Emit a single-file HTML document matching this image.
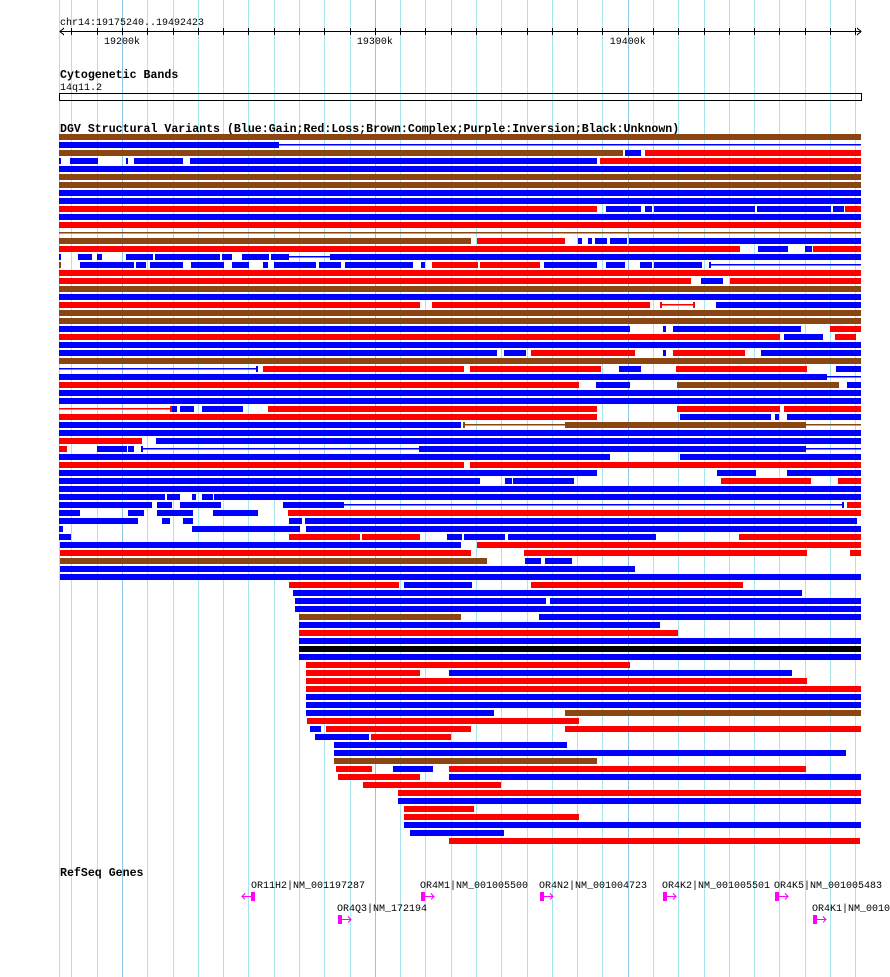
<!DOCTYPE html>
<html><head><meta charset="utf-8">
<style>
html,body{margin:0;padding:0;background:#fff;}
svg{display:block;}
text{font-family:"Liberation Mono","DejaVu Sans Mono",monospace;fill:#000;}
</style></head>
<body>
<svg id="chart" width="890" height="977" viewBox="0 0 890 977" xmlns="http://www.w3.org/2000/svg" shape-rendering="crispEdges">
  <g id="grid"></g>
  <text x="60" y="25" font-size="10">chr14:19175240..19492423</text>
  <g id="ruler"></g>
  <text x="60" y="78" font-size="11.6" font-weight="bold">Cytogenetic Bands</text>
  <text x="60" y="90" font-size="10">14q11.2</text>
  <rect x="59.5" y="93.5" width="802" height="7" fill="none" stroke="#000" stroke-width="1"/>
  <text x="60" y="132" font-size="11.6" font-weight="bold">DGV Structural Variants (Blue:Gain;Red:Loss;Brown:Complex;Purple:Inversion;Black:Unknown)</text>
  <g id="sv"></g>
  <text x="60" y="876" font-size="11.6" font-weight="bold">RefSeq Genes</text>
  <g id="genes"></g>
</svg>
<script>
// ---- data (kb offsets from chr14:19175240) ----
var regionStartKb = 19175.24;
var regionEndKb = 19492.423;
var rulerLabels = ["19200k", "19300k", "19400k"];
var rulerLabelKb = [19200, 19300, 19400];
// segments: [row, startKb, endKb, type(G gain,L loss,C complex,U unknown), shape(b bar,l line)]
var svSegments = [
[0,0,317.2,'C','b'],
[1,0,86.9,'G','b'],[1,86.9,317.2,'G','l'],
[2,0,223.0,'C','b'],[2,223.7,230.1,'G','b'],[2,231.7,317.2,'L','b'],
[3,0,0.6,'G','b'],[3,4.2,15.3,'G','b'],[3,26.3,27.1,'G','b'],[3,29.5,48.9,'G','b'],[3,51.7,212.7,'G','b'],[3,213.9,317.2,'L','b'],
[4,0,317.2,'G','b'],[5,0,317.2,'C','b'],[6,0,317.2,'C','b'],[7,0,317.2,'G','b'],[8,0,317.2,'G','b'],
[9,0,212.7,'L','b'],[9,216.2,230.1,'G','b'],[9,231.7,234.4,'G','b'],[9,235.2,275.2,'G','b'],[9,276.0,305.2,'G','b'],[9,306.0,310.4,'G','b'],[9,310.8,317.2,'L','b'],
[10,0,317.2,'G','b'],[11,0,317.2,'L','b'],[12,0,317.2,'C','l'],
[13,0,162.8,'C','b'],[13,165.2,200.0,'L','b'],[13,205.2,206.7,'G','b'],[13,209.1,210.7,'G','b'],[13,211.9,216.6,'G','b'],[13,217.8,224.5,'G','b'],[13,225.3,317.2,'G','b'],
[14,0,269.2,'L','b'],[14,276.4,288.2,'G','b'],[14,294.9,297.7,'G','b'],[14,298.1,317.2,'L','b'],
[15,0,0.6,'G','b'],[15,7.4,12.9,'G','b'],[15,14.9,16.9,'G','b'],[15,26.3,37.0,'G','b'],[15,37.8,63.5,'G','b'],[15,64.3,68.3,'G','b'],[15,72.2,82.9,'G','b'],[15,83.7,90.8,'G','b'],[15,90.8,107.0,'G','l'],[15,107.0,317.2,'G','b'],
[16,0,0.6,'C','b'],[16,8.1,29.5,'G','b'],[16,30.3,34.3,'G','b'],[16,35.8,48.9,'G','b'],[16,52.1,65.1,'G','b'],[16,68.3,75.0,'G','b'],[16,80.5,82.5,'G','b'],[16,84.9,101.5,'G','b'],[16,102.7,111.4,'G','b'],[16,113.0,139.9,'G','b'],[16,143.0,144.6,'G','b'],[16,147.4,165.6,'L','b'],[16,166.4,190.1,'L','b'],[16,191.7,212.7,'G','b'],[16,216.2,223.7,'G','b'],[16,229.7,234.4,'G','b'],[16,235.2,254.2,'G','b'],[16,257.0,257.8,'G','b'],[16,257.4,317.2,'G','l'],
[17,0,317.2,'L','b'],
[18,0,249.9,'L','b'],[18,253.8,262.5,'G','b'],[18,265.3,317.2,'L','b'],
[19,0,317.2,'C','b'],[20,0,317.2,'G','b'],
[21,0,142.7,'L','b'],[21,147.4,233.6,'L','b'],[21,237.6,238.4,'L','b'],[21,237.6,251.4,'L','l'],[21,250.6,251.4,'L','b'],[21,259.8,317.2,'G','b'],
[22,0,317.2,'C','b'],[23,0,317.2,'C','b'],
[24,0,225.7,'G','b'],[24,238.8,240.0,'G','b'],[24,242.7,293.4,'G','b'],[24,304.8,317.2,'L','b'],
[25,0,285.1,'L','b'],[25,286.7,302.1,'G','b'],[25,306.8,315.1,'L','b'],
[26,0,317.2,'G','b'],
[27,0,173.1,'G','b'],[27,175.9,184.6,'G','b'],[27,186.5,227.7,'L','b'],[27,238.8,240.0,'G','b'],[27,242.7,271.2,'L','b'],[27,277.5,317.2,'G','b'],
[28,0,317.2,'C','b'],
[29,0,77.8,'G','l'],[29,77.8,78.6,'G','b'],[29,80.5,160.1,'L','b'],[29,162.4,214.3,'L','b'],[29,221.4,230.1,'G','b'],[29,243.9,295.7,'L','b'],[29,307.2,317.2,'G','b'],
[30,0,303.6,'G','b'],[30,303.6,317.2,'G','l'],
[31,0,205.6,'L','b'],[31,212.3,225.7,'G','b'],[31,244.3,308.4,'C','b'],[31,311.6,317.2,'G','b'],
[32,0,317.2,'G','b'],[33,0,317.2,'G','b'],
[34,0,43.8,'L','l'],[34,43.8,44.5,'L','b'],[34,44.5,46.5,'G','b'],[34,47.7,53.3,'G','b'],[34,56.4,72.6,'G','b'],[34,82.5,212.7,'L','b'],[34,244.3,285.1,'L','b'],[34,286.7,317.2,'L','b'],
[35,0,212.7,'L','b'],[35,245.5,281.5,'G','b'],[35,283.1,284.7,'G','b'],[35,287.8,317.2,'G','b'],
[36,0,158.9,'G','b'],[36,159.7,160.5,'C','b'],[36,160.5,317.2,'C','l'],[36,200.0,295.3,'C','b'],
[37,0,317.2,'G','b'],
[38,0,32.7,'L','b'],[38,38.2,317.2,'G','b'],
[39,0,3.0,'L','b'],[39,14.9,26.7,'G','b'],[39,27.1,29.5,'G','b'],[39,32.3,32.9,'G','b'],[39,32.7,142.3,'G','l'],[39,142.3,295.3,'G','b'],[39,295.3,317.2,'G','l'],
[40,0,217.8,'G','b'],[40,245.5,317.2,'G','b'],
[41,0,160.1,'L','b'],[41,162.4,317.2,'L','b'],
[42,0,212.7,'G','b'],[42,260.2,275.6,'G','b'],[42,287.8,317.2,'G','b'],
[43,0,166.4,'G','b'],[43,176.3,179.1,'G','b'],[43,179.5,203.6,'G','b'],[43,261.7,297.3,'L','b'],[43,308.0,317.2,'L','b'],
[44,0,317.2,'G','b'],
[45,0,41.8,'G','b'],[45,42.6,47.7,'G','b'],[45,52.5,54.0,'G','b'],[45,56.4,60.8,'G','b'],[45,61.2,317.2,'G','b'],
[46,0,36.6,'G','b'],[46,38.6,44.5,'G','b'],[46,47.7,63.9,'G','b'],[46,88.4,112.6,'G','b'],[46,112.6,309.6,'G','l'],[46,309.6,310.4,'G','b'],[46,311.6,317.2,'L','b'],
[47,0,8.1,'G','b'],[47,27.1,33.5,'G','b'],[47,38.6,52.9,'G','b'],[47,60.8,78.6,'G','b'],[47,90.4,317.2,'L','b'],
[48,0,31.1,'G','b'],[48,40.6,43.8,'G','b'],[48,48.9,52.9,'G','b'],[48,90.8,96.0,'G','b'],[48,97.2,315.5,'G','b'],
[49,0,1.4,'G','b'],[49,52.5,95.2,'G','b'],[49,97.6,317.2,'G','b'],
[50,0,4.6,'G','b'],[50,90.8,118.9,'L','b'],[50,119.7,142.7,'L','b'],[50,153.3,159.3,'G','b'],[50,160.1,176.3,'G','b'],[50,177.5,236.0,'G','b'],[50,268.8,317.2,'L','b'],
[51,0.2,158.9,'G','b'],[51,165.2,317.2,'L','b'],
[52,0.2,162.8,'L','b'],[52,183.8,295.7,'L','b'],[52,312.8,317.2,'L','b'],
[53,0.2,169.1,'C','b'],[53,184.2,190.5,'G','b'],[53,192.1,202.8,'G','b'],
[54,0.2,227.7,'G','b'],
[55,0.2,317.2,'G','b'],
[56,90.8,134.3,'L','b'],[56,136.3,163.2,'G','b'],[56,186.5,270.4,'L','b'],
[57,92.4,293.8,'G','b'],
[58,93.2,192.5,'G','b'],[58,194.1,317.2,'G','b'],
[59,93.2,317.2,'G','b'],
[60,94.8,158.9,'C','b'],[60,189.7,317.2,'G','b'],
[61,94.8,237.6,'G','b'],
[62,94.8,244.7,'L','b'],
[63,94.8,317.2,'G','b'],
[64,94.8,317.2,'U','b'],
[65,94.8,317.2,'G','b'],
[66,97.6,225.7,'L','b'],
[67,97.6,142.7,'L','b'],[67,154.1,289.8,'G','b'],
[68,97.6,295.7,'L','b'],
[69,97.6,317.2,'L','b'],
[70,97.6,317.2,'G','b'],
[71,97.6,317.2,'G','b'],
[72,97.6,171.9,'G','b'],[72,200.0,317.2,'C','b'],
[73,98.0,205.6,'L','b'],
[74,99.1,103.5,'G','b'],[74,105.5,162.8,'L','b'],[74,200.0,317.2,'L','b'],
[75,101.1,122.5,'G','b'],[75,123.3,154.9,'L','b'],
[76,108.6,200.8,'G','b'],
[77,108.6,311.2,'G','b'],
[78,108.6,212.7,'C','b'],
[79,109.4,123.7,'L','b'],[79,132.1,147.8,'G','b'],[79,154.1,295.3,'L','b'],
[80,110.2,142.7,'L','b'],[80,154.1,317.2,'G','b'],
[81,120.1,174.7,'L','b'],
[82,133.9,317.2,'L','b'],
[83,133.9,317.2,'G','b'],
[84,136.3,164.0,'L','b'],
[85,136.3,205.6,'L','b'],
[86,136.3,317.2,'G','b'],
[87,138.7,175.9,'G','b'],
[88,154.1,316.8,'L','b']
];
var geneNames = ["OR11H2|NM_001197287","OR4M1|NM_001005500","OR4N2|NM_001004723","OR4K2|NM_001005501","OR4K5|NM_001005483","OR4Q3|NM_172194","OR4K1|NM_0010"];
var geneStartKb = [75.9,143.0,190.1,238.8,283.1,110.2,298.1];
var geneEndKb = [77.5,144.6,191.7,240.4,284.7,111.8,299.7];
var geneStrand = ["-","+","+","+","+","+","+"];
var geneLane = [0,0,0,0,0,1,1];

// ---- scales ----
var X0 = 59.4, PXPERKB = 802 / (regionEndKb - regionStartKb);
function xs(kb){ return X0 + kb * PXPERKB; }
function xg(absKb){ return xs(absKb - regionStartKb); }
function rowY(r){ return 134 + 8 * r; }
var NS = "http://www.w3.org/2000/svg";
function mk(tag, attrs, parent){ var e = document.createElementNS(NS, tag); for (var k in attrs) e.setAttribute(k, attrs[k]); parent.appendChild(e); return e; }
var COLORS = {G:"#0000ff", L:"#ff0000", C:"#8b4513", U:"#000000"};

// grid
var grid = document.getElementById("grid");
var gl0 = mk("line", {x1:59.5, x2:59.5, y1:0, y2:977, stroke:"#a8e6ee", "stroke-width":1}, grid);


for (var g = 19180; g <= 19490; g += 10) {
  var gx = Math.round(xg(g)) + 0.5;
  var major = (g % 100 === 0);
  var gl = mk("line", {x1:gx, x2:gx, y1:0, y2:977, stroke: major ? "#8cc8e6" : "#a8e6ee", "stroke-width":1}, grid);
  
  
}

// ruler
var ruler = document.getElementById("ruler");
mk("line", {x1:60, x2:861, y1:31.5, y2:31.5, stroke:"#000", "stroke-width":1}, ruler);
mk("polyline", {points:"64,28 60,31.5 64,35", fill:"none", stroke:"#000"}, ruler);
mk("polyline", {points:"857,28 861,31.5 857,35", fill:"none", stroke:"#000"}, ruler);
for (var t = 19180; t <= 19490; t += 10) {
  var tx = Math.round(xg(t)) + 0.5;
  var tk = mk("line", {x1:tx, x2:tx, y1:28, y2:35, stroke:"#000"}, ruler);
  
  
}
for (var i = 0; i < rulerLabels.length; i++) {
  var lt = mk("text", {x: xg(rulerLabelKb[i]), y:44, "font-size":10, "text-anchor":"middle"}, ruler);
  lt.textContent = rulerLabels[i];
  
  
}

// SV segments
var sv = document.getElementById("sv");
svSegments.forEach(function(s){
  var x1 = Math.round(xs(s[1])), x2 = Math.round(xs(s[2]));
  var w = Math.max(1, x2 - x1), y = rowY(s[0]);
  var el;
  if (s[4] === 'b') {
    el = mk("rect", {x:x1, y:y, width:w, height:6, fill:COLORS[s[3]]}, sv);
  } else {
    el = mk("rect", {x:x1, y:y+2, width:w, height:1.3, fill:COLORS[s[3]]}, sv);
  }
  
  
});

// genes
var genes = document.getElementById("genes");
for (var j = 0; j < geneNames.length; j++) {
  var gx1 = Math.round(xs(geneStartKb[j])), gx2 = Math.round(xs(geneEndKb[j]));
  var base = geneLane[j] === 0 ? 880 : 903;
  var grp = mk("g", {}, genes);
  
  
  var lab = mk("text", {x: gx1 - (geneStrand[j] === '-' ? 0 : 1), y: base + 8, "font-size":10}, grp);
  lab.textContent = geneNames[j];
  var gy = base + 12;
  mk("rect", {x:gx1, y:gy, width:Math.max(3, gx2 - gx1), height:9, fill:"#ff00ff"}, grp);
  if (geneStrand[j] === '+') {
    mk("line", {x1:gx2, x2:gx2+9, y1:gy+4.5, y2:gy+4.5, stroke:"#ff00ff"}, grp);
    mk("polyline", {points:(gx2+6)+","+(gy+1.5)+" "+(gx2+9)+","+(gy+4.5)+" "+(gx2+6)+","+(gy+7.5), fill:"none", stroke:"#ff00ff"}, grp);
  } else {
    mk("line", {x1:gx1-9, x2:gx1, y1:gy+4.5, y2:gy+4.5, stroke:"#ff00ff"}, grp);
    mk("polyline", {points:(gx1-6)+","+(gy+1.5)+" "+(gx1-9)+","+(gy+4.5)+" "+(gx1-6)+","+(gy+7.5), fill:"none", stroke:"#ff00ff"}, grp);
  }
}
</script>
</body></html>
